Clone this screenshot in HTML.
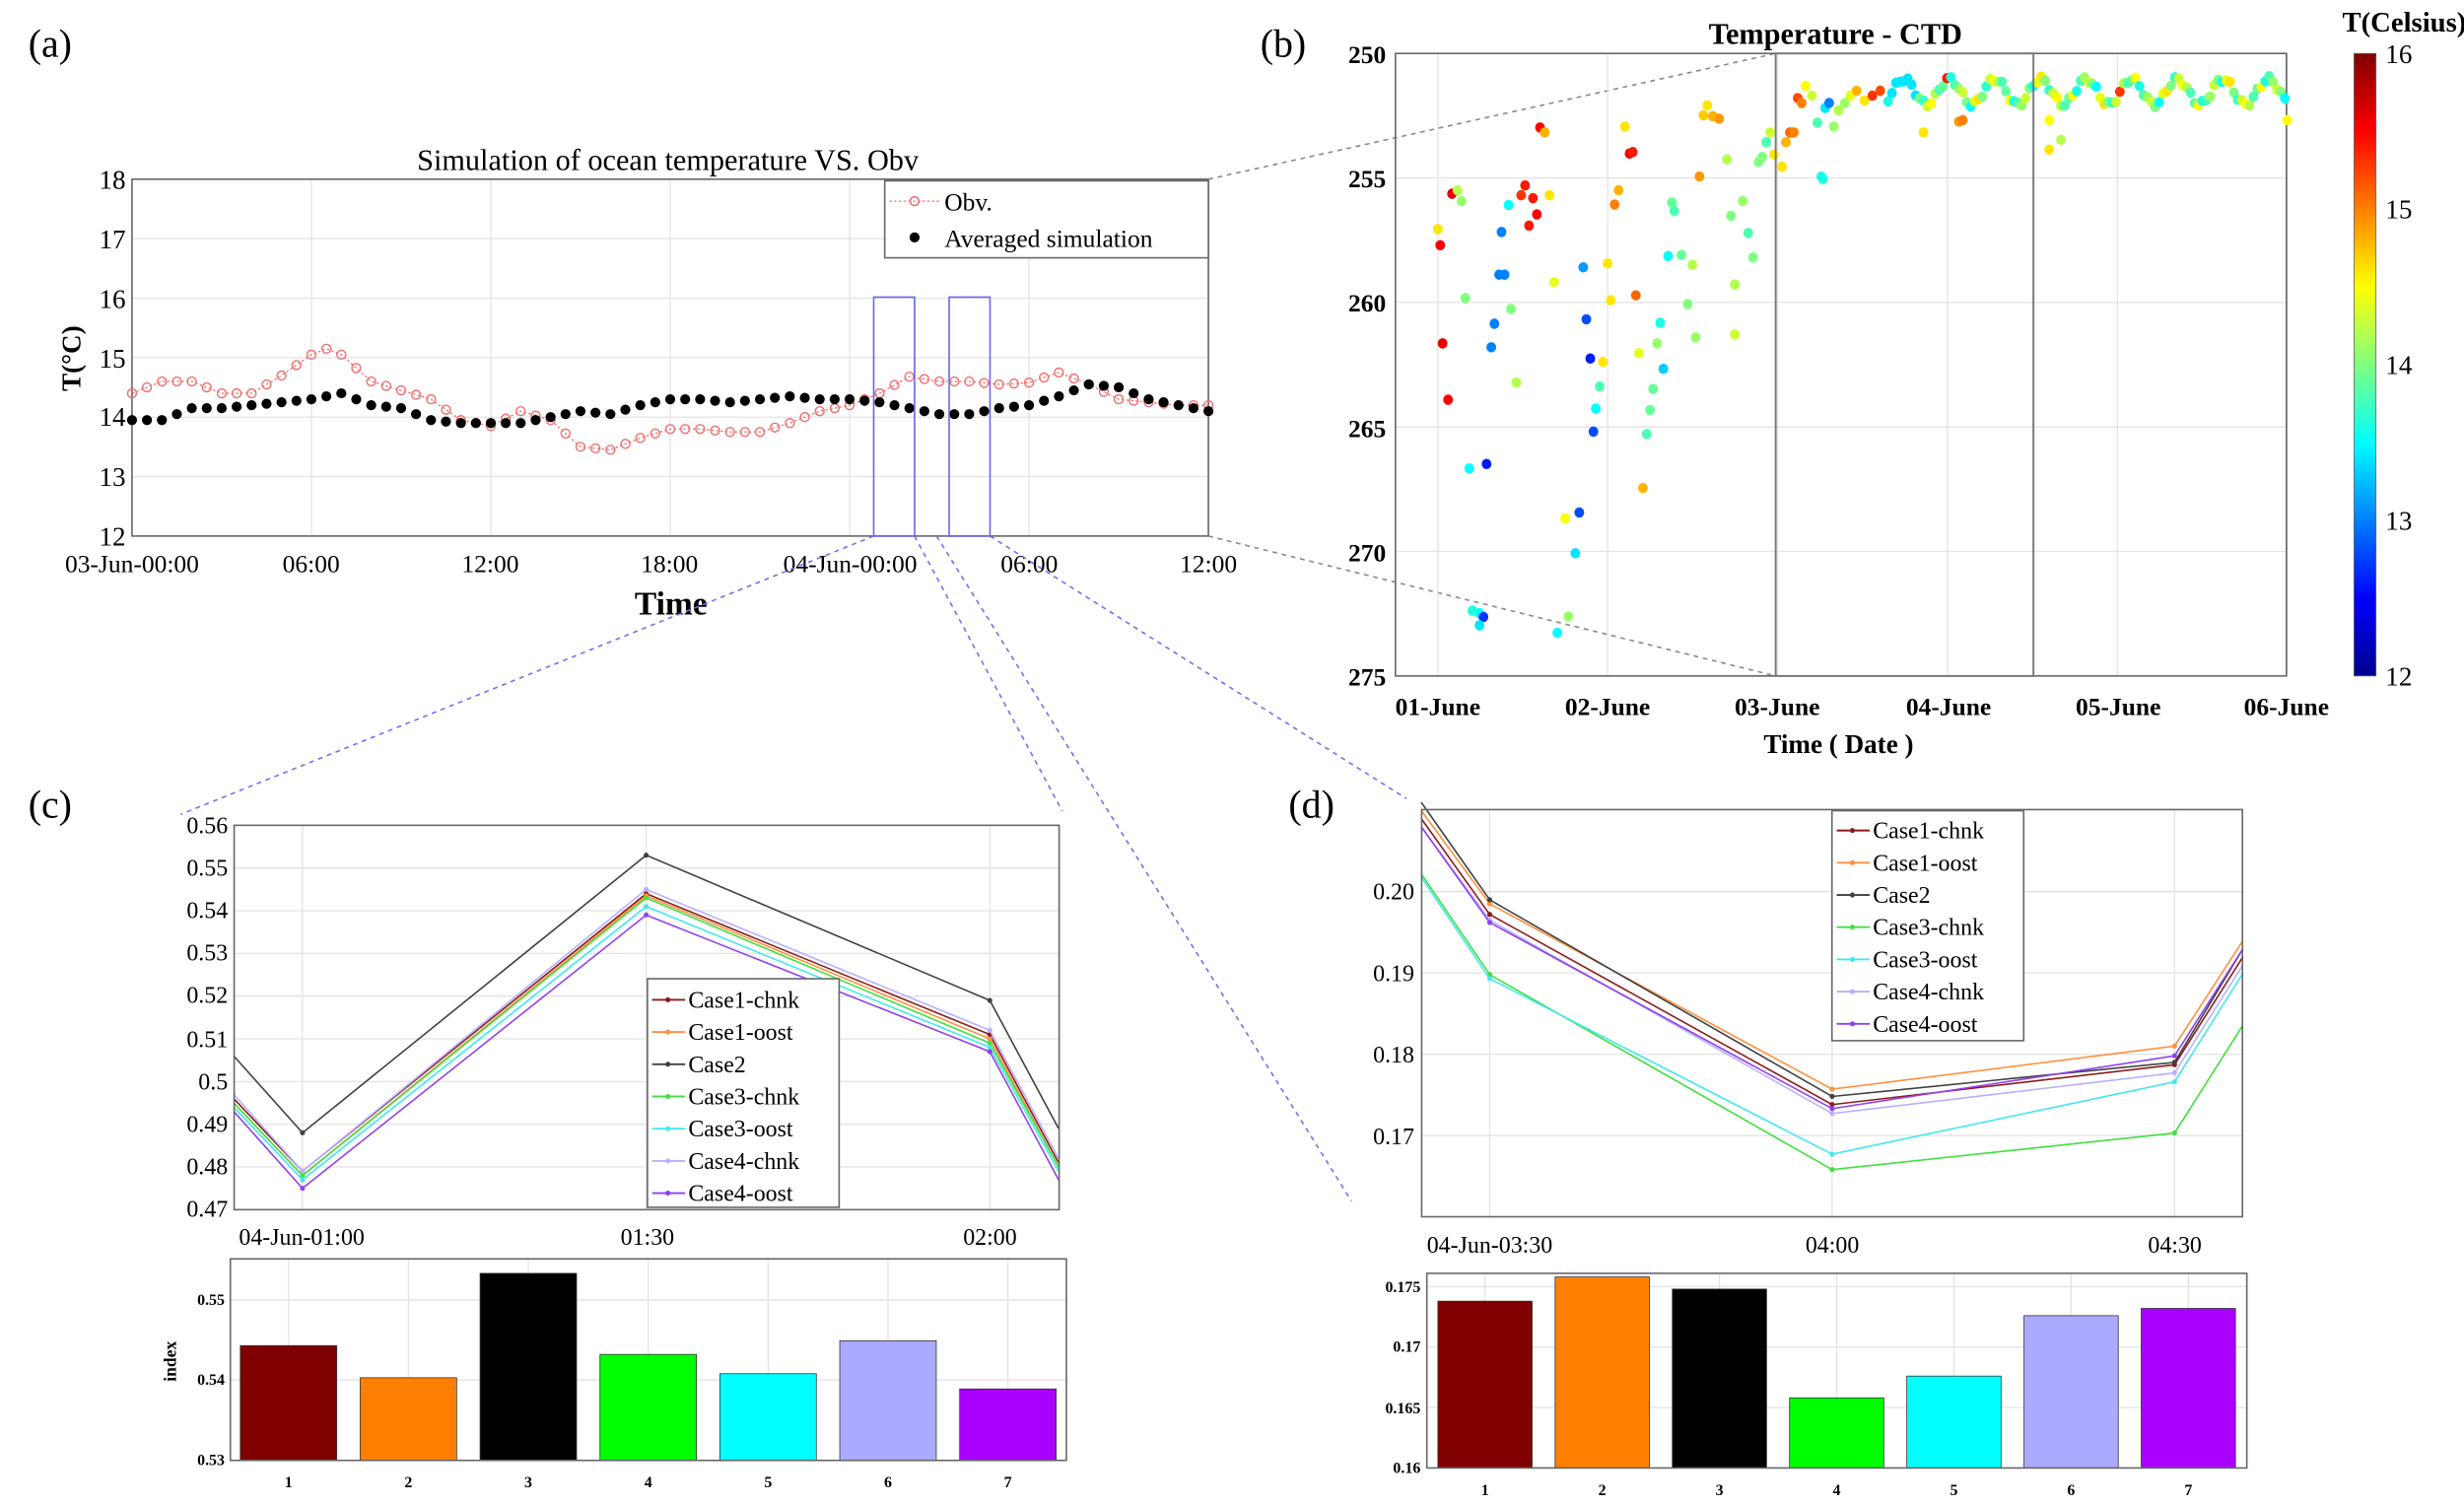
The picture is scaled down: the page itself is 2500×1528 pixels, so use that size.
<!DOCTYPE html>
<html><head><meta charset="utf-8"><style>
html,body{margin:0;padding:0;background:#fff;}
svg{display:block;}
text{font-family:"Liberation Serif",serif;}
</style></head><body>
<svg id="s" width="2500" height="1528" viewBox="0 0 1568 958" preserveAspectRatio="none" xmlns="http://www.w3.org/2000/svg">
<defs>
<linearGradient id="jet" x1="0" y1="1" x2="0" y2="0">
<stop offset="0" stop-color="#00008f"/><stop offset="0.125" stop-color="#0000ff"/><stop offset="0.375" stop-color="#00ffff"/><stop offset="0.625" stop-color="#ffff00"/><stop offset="0.875" stop-color="#ff0000"/><stop offset="1" stop-color="#800000"/>
</linearGradient>
</defs>
<rect width="1568" height="958" fill="#fff"/>
<text x="18" y="36" font-size="25">(a)</text>
<text x="802" y="36" font-size="25">(b)</text>
<text x="18" y="520" font-size="25">(c)</text>
<text x="820" y="520" font-size="25">(d)</text>

<text x="425" y="108" font-size="19" text-anchor="middle">Simulation of ocean temperature  VS.  Obv</text>
<g font-size="17" text-anchor="end">
<text x="80" y="120">18</text><text x="80" y="158">17</text><text x="80" y="196">16</text><text x="80" y="234">15</text><text x="80" y="271">14</text><text x="80" y="309">13</text><text x="80" y="347">12</text>
</g>
<g font-size="16" text-anchor="middle">
<text x="84" y="364">03-Jun-00:00</text><text x="198" y="364">06:00</text><text x="312" y="364">12:00</text><text x="426" y="364">18:00</text><text x="541" y="364">04-Jun-00:00</text><text x="655" y="364">06:00</text><text x="769" y="364">12:00</text>
</g>
<text x="427" y="391" font-size="21" font-weight="bold" text-anchor="middle">Time</text>
<text transform="translate(51,228) rotate(-90)" font-size="17" font-weight="bold" text-anchor="middle">T(°C)</text>

<text x="1168" y="28" font-size="19" font-weight="bold" text-anchor="middle">Temperature - CTD</text>
<text x="1530" y="20" font-size="18" font-weight="bold" text-anchor="middle">T(Celsius)</text>
<g font-size="16" font-weight="bold" text-anchor="end">
<text x="882" y="40">250</text><text x="882" y="119">255</text><text x="882" y="198">260</text><text x="882" y="278">265</text><text x="882" y="357">270</text><text x="882" y="436">275</text>
</g>
<g font-size="16" font-weight="bold" text-anchor="middle">
<text x="915" y="455">01-June</text><text x="1023" y="455">02-June</text><text x="1131" y="455">03-June</text><text x="1240" y="455">04-June</text><text x="1348" y="455">05-June</text><text x="1455" y="455">06-June</text>
</g>
<text x="1170" y="479" font-size="17" font-weight="bold" text-anchor="middle">Time ( Date )</text>
<g font-size="17">
<text x="1518" y="40">16</text><text x="1518" y="139">15</text><text x="1518" y="238">14</text><text x="1518" y="337">13</text><text x="1518" y="436">12</text>
</g>

<g font-size="15" text-anchor="end">
<text x="145" y="530">0.56</text><text x="145" y="557">0.55</text><text x="145" y="584">0.54</text><text x="145" y="611">0.53</text><text x="145" y="638">0.52</text><text x="145" y="666">0.51</text><text x="145" y="693">0.5</text><text x="145" y="720">0.49</text><text x="145" y="747">0.48</text><text x="145" y="774">0.47</text>
</g>
<g font-size="15" text-anchor="middle">
<text x="192" y="792">04-Jun-01:00</text><text x="412" y="792">01:30</text><text x="630" y="792">02:00</text>
</g>
<g font-size="10" font-weight="bold" text-anchor="end">
<text x="143" y="830">0.55</text><text x="143" y="881">0.54</text><text x="143" y="932">0.53</text>
</g>
<text transform="translate(112,866) rotate(-90)" font-size="11" font-weight="bold" text-anchor="middle">index</text>

<g font-size="15" text-anchor="end">
<text x="900" y="572">0.20</text><text x="900" y="624">0.19</text><text x="900" y="676">0.18</text><text x="900" y="728">0.17</text>
</g>
<g font-size="15" text-anchor="middle">
<text x="948" y="797">04-Jun-03:30</text><text x="1166" y="797">04:00</text><text x="1384" y="797">04:30</text>
</g>
<g font-size="10" font-weight="bold" text-anchor="end">
<text x="904" y="822">0.175</text><text x="904" y="860">0.17</text><text x="904" y="899">0.165</text><text x="904" y="937">0.16</text>
</g>
<g id="dyn"></g>
</svg>
<script>
var NS="http://www.w3.org/2000/svg";
var G=document.getElementById("dyn");
function el(t,a,p){var e=document.createElementNS(NS,t);for(var k in a)e.setAttribute(k,a[k]);(p||G).appendChild(e);return e;}
function txt(x,y,s,a){var e=el("text",Object.assign({x:x,y:y},a||{}));e.textContent=s;return e;}
function jet(T){var v=(T-12)/4;v=Math.max(0,Math.min(1,v));function c(x){return Math.round(255*Math.max(0,Math.min(1,x)));}
return "rgb("+c(1.5-Math.abs(4*v-3))+","+c(1.5-Math.abs(4*v-2))+","+c(1.5-Math.abs(4*v-1))+")";}
var GC="#e3e3e3",AX="#666";
var aL=84,aR=769,aT=114,aB=341;
function aX(h){return aL+h*(aR-aL)/36;} function aY(T){return aB-(T-12)*(aB-aT)/6;}
for(var i=0;i<=6;i++){el("line",{x1:aX(i*6),x2:aX(i*6),y1:aT,y2:aB,stroke:GC,"stroke-width":0.8});el("line",{x1:aL,x2:aR,y1:aY(12+i),y2:aY(12+i),stroke:GC,"stroke-width":0.8});}
el("rect",{x:aL,y:aT,width:aR-aL,height:aB-aT,fill:"none",stroke:AX,"stroke-width":1});
var obv=[14.4,14.6,14.6,14.4,14.4,14.7,15.05,15.05,14.6,14.45,14.3,13.95,13.85,14.1,13.95,13.5,13.45,13.65,13.8,13.8,13.75,13.75,13.9,14.1,14.2,14.4,14.68,14.6,14.6,14.55,14.58,14.75,14.55,14.3,14.25,14.2,14.2];
var sim=[13.95,13.95,14.15,14.15,14.2,14.25,14.3,14.4,14.2,14.15,13.95,13.9,13.9,13.9,14.0,14.1,14.05,14.2,14.3,14.3,14.25,14.3,14.35,14.3,14.3,14.25,14.15,14.05,14.05,14.15,14.2,14.35,14.55,14.5,14.3,14.2,14.1];
function half(arr){var r=[];for(var i=0;i<arr.length;i++){r.push([i,arr[i]]);if(i<arr.length-1)r.push([i+0.5,(arr[i]+arr[i+1])/2]);}return r;}
var op=half(obv);op[13][1]=15.15;
var pts=op.map(function(p){return aX(p[0])+","+aY(p[1]);}).join(" ");
el("polyline",{points:pts,fill:"none",stroke:"#f07070","stroke-width":0.8,"stroke-dasharray":"1.5,1.5"});
op.forEach(function(p){el("circle",{cx:aX(p[0]),cy:aY(p[1]),r:2.8,fill:"none",stroke:"#f07070","stroke-width":0.9});});
half(sim).forEach(function(p){el("circle",{cx:aX(p[0]),cy:aY(p[1]),r:3.2,fill:"#000"});});
el("rect",{x:556,y:189,width:26,height:152,fill:"none",stroke:"#6666ee","stroke-width":1});
el("rect",{x:604,y:189,width:26,height:152,fill:"none",stroke:"#6666ee","stroke-width":1});
el("rect",{x:563,y:115,width:206,height:49,fill:"#fff",stroke:AX,"stroke-width":1});
el("line",{x1:566,x2:598,y1:128,y2:128,stroke:"#f07070","stroke-width":0.8,"stroke-dasharray":"1.5,1.5"});
el("circle",{cx:582,cy:128,r:2.8,fill:"none",stroke:"#f07070"});
el("circle",{cx:582,cy:151,r:3.2,fill:"#000"});
txt(601,134,"Obv.",{"font-size":16});txt(601,157,"Averaged simulation",{"font-size":16});
el("line",{x1:769,y1:114,x2:1130,y2:34,stroke:"#888","stroke-dasharray":"3,3","stroke-width":1});
el("line",{x1:769,y1:341,x2:1130,y2:430,stroke:"#888","stroke-dasharray":"3,3","stroke-width":1});
var bl={stroke:"#7070ee","stroke-dasharray":"3,3","stroke-width":1};
el("line",Object.assign({x1:556,y1:341,x2:115,y2:518},bl));
el("line",Object.assign({x1:582,y1:341,x2:676,y2:516},bl));
el("line",Object.assign({x1:596,y1:341,x2:860,y2:764},bl));
el("line",Object.assign({x1:630,y1:341,x2:895,y2:508},bl));
var bL=888,bR=1455,bT=34,bB=430;
for(var d=0;d<6;d++){var x=915+d*108.1;el("line",{x1:x,x2:x,y1:bT,y2:bB,stroke:GC,"stroke-width":0.8});}
for(var k=1;k<5;k++){var y=bT+k*79.2;el("line",{x1:bL,x2:bR,y1:y,y2:y,stroke:GC,"stroke-width":0.8});}
el("rect",{x:bL,y:bT,width:bR-bL,height:bB-bT,fill:"none",stroke:AX,"stroke-width":1});
var sc=[[262,467,14.6],[265,500,15.5],[268,700,15.6],[275,815,15.5],[280,395,15.6],[287,388,14.2],[292,410,14.1],[297,608,14.0],[302,955,13.5],[315,1250,13.5],[320,1258,12.7],[315,1275,13.4],[306,1245,13.6],[324,946,12.6],[330,708,13.0],[334,660,13.0],[340,560,13.0],[347,560,13.0],[343,473,13.0],[352,418,13.5],[355,630,14.0],[362,780,14.2],[368,398,15.3],[373,378,15.4],[378,460,15.4],[383,404,15.4],[388,437,15.5],[392,260,15.5],[398,270,14.8],[404,398,14.6],[410,575,14.4],[424,1057,14.5],[428,1257,14.1],[414,1290,13.5],[437,1128,13.4],[442,1045,12.8],[447,545,13.1],[451,651,12.8],[456,731,12.6],[460,880,12.8],[463,833,13.5],[468,788,13.8],[472,738,14.6],[478,537,14.6],[482,612,14.6],[487,417,15.0],[492,388,14.8],[500,258,14.6],[506,313,15.5],[510,310,15.4],[514,602,15.1],[518,720,14.4],[523,995,14.8],[528,885,13.8],[532,836,13.9],[536,793,13.9],[541,700,14.1],[545,658,13.6],[549,752,13.3],[555,522,13.5],[560,413,13.9],[563,430,13.8],[572,520,13.9],[580,620,14.0],[586,540,14.2],[590,688,14.1],[595,360,14.9],[600,235,14.7],[605,215,14.6],[612,237,14.8],[620,242,14.9],[630,325,14.2],[635,440,14.0],[640,580,14.2],[640,682,14.3],[650,410,14.1],[657,475,13.8],[663,525,14.0],[670,330,14.0],[675,320,14.0],[680,290,13.8],[685,270,14.3],[690,315,14.6],[700,340,14.6],[705,290,14.8],[710,270,15.1],[715,270,15.0],[720,200,15.2],[725,210,15.0],[730,175,14.5],[738,195,14.3],[745,250,13.8],[750,360,13.6],[755,220,13.4],[760,210,13.0],[766,258,14.1],[772,225,14.2],[780,210,14.1],[787,195,14.4],[795,185,14.8],[805,205,14.6],[815,195,15.3],[825,185,15.2],[880,270,14.6],[925,248,14.9],[930,245,15.0],[1040,305,14.6],[1055,285,14.2],[1343,245,14.5],[1000,210,14.4],[1040,245,14.5],[752,365,13.6]];
var cols=[13.6,13.8,14.1,14.3,14.0,13.5,14.4,14.6,14.0,13.7,14.3,14.5,14.2,13.8,13.9,14.5];
for(var zx=835,n=0;zx<=1343;zx+=5,n++){var zy=187-26*Math.cos((zx-855)*2*Math.PI/58)+6*Math.sin(zx*0.37);var T=cols[n%cols.length];if(zx>905&&zx<915)T=15.4;if(zx>1125&&zx<1132)T=15.3;if(zx>838&&zx<872)T=13.4;sc.push([zx,zy,T]);}
sc.forEach(function(p){el("ellipse",{cx:784+p[0]/2,cy:p[1]*0.312,rx:3.1,ry:3.3,fill:jet(p[2])});});
el("rect",{x:1130,y:34,width:164,height:396,fill:"none",stroke:"#777","stroke-width":1.2});
el("rect",{x:1498,y:34,width:14,height:396,fill:"url(#jet)",stroke:"#666","stroke-width":0.5});
var names=["Case1-chnk","Case1-oost","Case2","Case3-chnk","Case3-oost","Case4-chnk","Case4-oost"];
var lc=["#8b1a1a","#ff9040","#404040","#40e040","#40e8f0","#b8b0ff","#9040f0"];
var bc=["#800000","#ff8000","#000000","#00ff00","#00ffff","#aaaaff","#aa00ff"];
function linePanel(L,R,T,B,vmin,vmax,xt,ticksY,data,leg){
 function X(t){return xt[0]+t*xt[1];} function Y(v){return B-(v-vmin)/(vmax-vmin)*(B-T);}
 [0,1,2].forEach(function(t){el("line",{x1:X(t),x2:X(t),y1:T,y2:B,stroke:GC,"stroke-width":0.8});});
 ticksY.forEach(function(v){el("line",{x1:L,x2:R,y1:Y(v),y2:Y(v),stroke:GC,"stroke-width":0.8});});
 var ts=[-0.2,0,1,2,2.2];
 data.forEach(function(d,i){var p=ts.map(function(t,j){return X(t)+","+Y(d[j]);}).join(" ");
  el("polyline",{points:p,fill:"none",stroke:lc[i],"stroke-width":1});
  [1,2,3].forEach(function(j){el("circle",{cx:X(ts[j]),cy:Y(d[j]),r:1.6,fill:lc[i]});});});
 el("rect",{x:L,y:T,width:R-L,height:B-T,fill:"none",stroke:AX,"stroke-width":1});
 el("rect",{x:leg[0],y:leg[1],width:leg[2],height:leg[3],fill:"#fff",stroke:AX,"stroke-width":1});
 for(var i=0;i<7;i++){var y=leg[4]+i*leg[5];el("line",{x1:leg[0]+3,x2:leg[0]+24,y1:y,y2:y,stroke:lc[i],"stroke-width":1.2});
  el("circle",{cx:leg[0]+13,cy:y,r:1.6,fill:lc[i]});txt(leg[0]+26,y+5,names[i],{"font-size":15});}
}
linePanel(149,674,525,769.5,0.47,0.56,[192.5,218.7],[0.48,0.49,0.5,0.51,0.52,0.53,0.54,0.55],
 [[0.496,0.479,0.544,0.511,0.481],[0.495,0.478,0.5435,0.510,0.480],[0.506,0.488,0.553,0.519,0.489],[0.495,0.478,0.543,0.509,0.480],[0.494,0.477,0.541,0.508,0.479],[0.497,0.479,0.545,0.512,0.482],[0.493,0.475,0.539,0.507,0.477]],
 [412,622.6,122,145.4,636,20.5]);
linePanel(904.7,1427,515,774,0.160,0.2101,[948,217.9],[0.17,0.18,0.19,0.2],
 [[0.209,0.1972,0.1738,0.1787,0.192],[0.210,0.1985,0.1757,0.1810,0.194],[0.211,0.199,0.1748,0.1790,0.193],[0.2022,0.1898,0.1658,0.1703,0.1836],[0.2018,0.1893,0.1677,0.1766,0.190],[0.208,0.1965,0.1727,0.1777,0.191],[0.208,0.1962,0.1733,0.1798,0.193]],
 [1165.8,515.7,122,146.3,528.3,20.5]);
function barPanel(L,R,T,B,vmin,vmax,c0,sp,w,ticks,vals,ly){
 function Y(v){return B-(v-vmin)/(vmax-vmin)*(B-T);}
 for(var i=0;i<7;i++){var x=c0+i*sp;el("line",{x1:x,x2:x,y1:T,y2:B,stroke:GC,"stroke-width":0.8});}
 ticks.forEach(function(v){el("line",{x1:L,x2:R,y1:Y(v),y2:Y(v),stroke:GC,"stroke-width":0.8});});
 for(var i=0;i<7;i++){var x=c0+i*sp;el("rect",{x:x-w/2,y:Y(vals[i]),width:w,height:B-Y(vals[i]),fill:bc[i],stroke:"#333","stroke-width":0.5});
  txt(x,ly,String(i+1),{"font-size":10,"font-weight":"bold","text-anchor":"middle"});}
 el("rect",{x:L,y:T,width:R-L,height:B-T,fill:"none",stroke:AX,"stroke-width":1});
}
barPanel(146.6,678.6,800.8,929,0.53,0.5551,183.6,76.3,61.4,[0.54,0.55],[0.5443,0.5403,0.5533,0.5432,0.5408,0.5449,0.5389],946);
barPanel(908,1429.8,810,933.8,0.16,0.1761,945,74.6,60,[0.165,0.17,0.175],[0.1738,0.1758,0.1748,0.1658,0.1676,0.1726,0.1732],951);
</script>
</body></html>
